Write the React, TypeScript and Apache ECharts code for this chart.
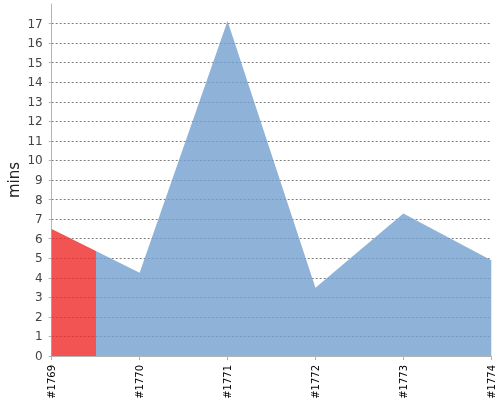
import React, { useEffect, useRef } from "react";
import * as echarts from "echarts";

const builds = ["#1769", "#1770", "#1771", "#1772", "#1773", "#1774"];
const durations = [6.49, 4.26, 17.13, 3.49, 7.29, 4.9];
const results = ["FAILURE", "SUCCESS", "SUCCESS", "SUCCESS", "SUCCESS", "SUCCESS"];
const yTicks = [0, 1, 2, 3, 4, 5, 6, 7, 8, 9, 10, 11, 12, 13, 14, 15, 16, 17];

const RED = "rgba(239,41,41,0.8)";
const BLUE = "rgba(114,159,207,0.8)";

export default function App() {
  const ref = useRef<HTMLDivElement>(null);
  useEffect(() => {
    if (!ref.current) return;
    const chart = echarts.init(ref.current, null, { renderer: "svg" });
    const pieces = results.map((r, i) => {
      const p: any = { color: r === "FAILURE" ? RED : BLUE };
      if (i > 0) p.gte = i - 0.5;
      if (i < results.length - 1) p.lt = i + 0.5;
      return p;
    });
    chart.setOption({
      animation: false,
      textStyle: { fontFamily: "DejaVu Sans" },
      grid: { left: 51.7, right: 8.7, top: 4, bottom: 44, outerBoundsMode: "none", containLabel: false },
      visualMap: {
        type: "piecewise",
        show: false,
        dimension: 0,
        seriesIndex: 0,
        pieces,
      },
      xAxis: {
        type: "value",
        min: 0,
        max: builds.length - 1,
        interval: 1,
        offset: 4,
        axisLine: { show: true, lineStyle: { color: "#b4b4b4", width: 1 } },
        axisTick: { show: true, length: 4, lineStyle: { color: "#b4b4b4" } },
        axisLabel: {
          rotate: 90,
          fontSize: 10,
          color: "#000",
          margin: 5,
          fontFamily: "DejaVu Sans",
          formatter: (v: number) => builds[Math.round(v)] ?? "",
        },
        splitLine: { show: false },
      },
      yAxis: {
        type: "value",
        min: 0,
        max: 18,
        interval: 1,
        offset: 4,
        name: "mins",
        nameLocation: "middle",
        nameGap: 26,
        nameMoveOverlap: false,
        nameTextStyle: { fontSize: 15, color: "#222", fontFamily: "DejaVu Sans" },
        axisLine: { show: true, lineStyle: { color: "#b4b4b4", width: 1 } },
        axisTick: { show: true, length: 3, customValues: yTicks, lineStyle: { color: "#b4b4b4" } },
        axisLabel: {
          customValues: yTicks,
          fontSize: 12,
          color: "#444",
          margin: 5,
          fontFamily: "DejaVu Sans",
        },
        splitLine: {
          show: true,
          showMinLine: false,
          lineStyle: { color: "#808080", type: [2, 2], width: 1 },
        },
      },
      series: [
        {
          type: "line",
          data: durations.map((d, i) => [i, d]),
          symbol: "none",
          lineStyle: { width: 0 },
          areaStyle: { opacity: 1 },
        },
      ],
    });
    return () => chart.dispose();
  }, []);
  return (
    <div
      ref={ref}
      style={{ position: "fixed", left: 0, top: 0, width: 500, height: 400 }}
    />
  );
}
